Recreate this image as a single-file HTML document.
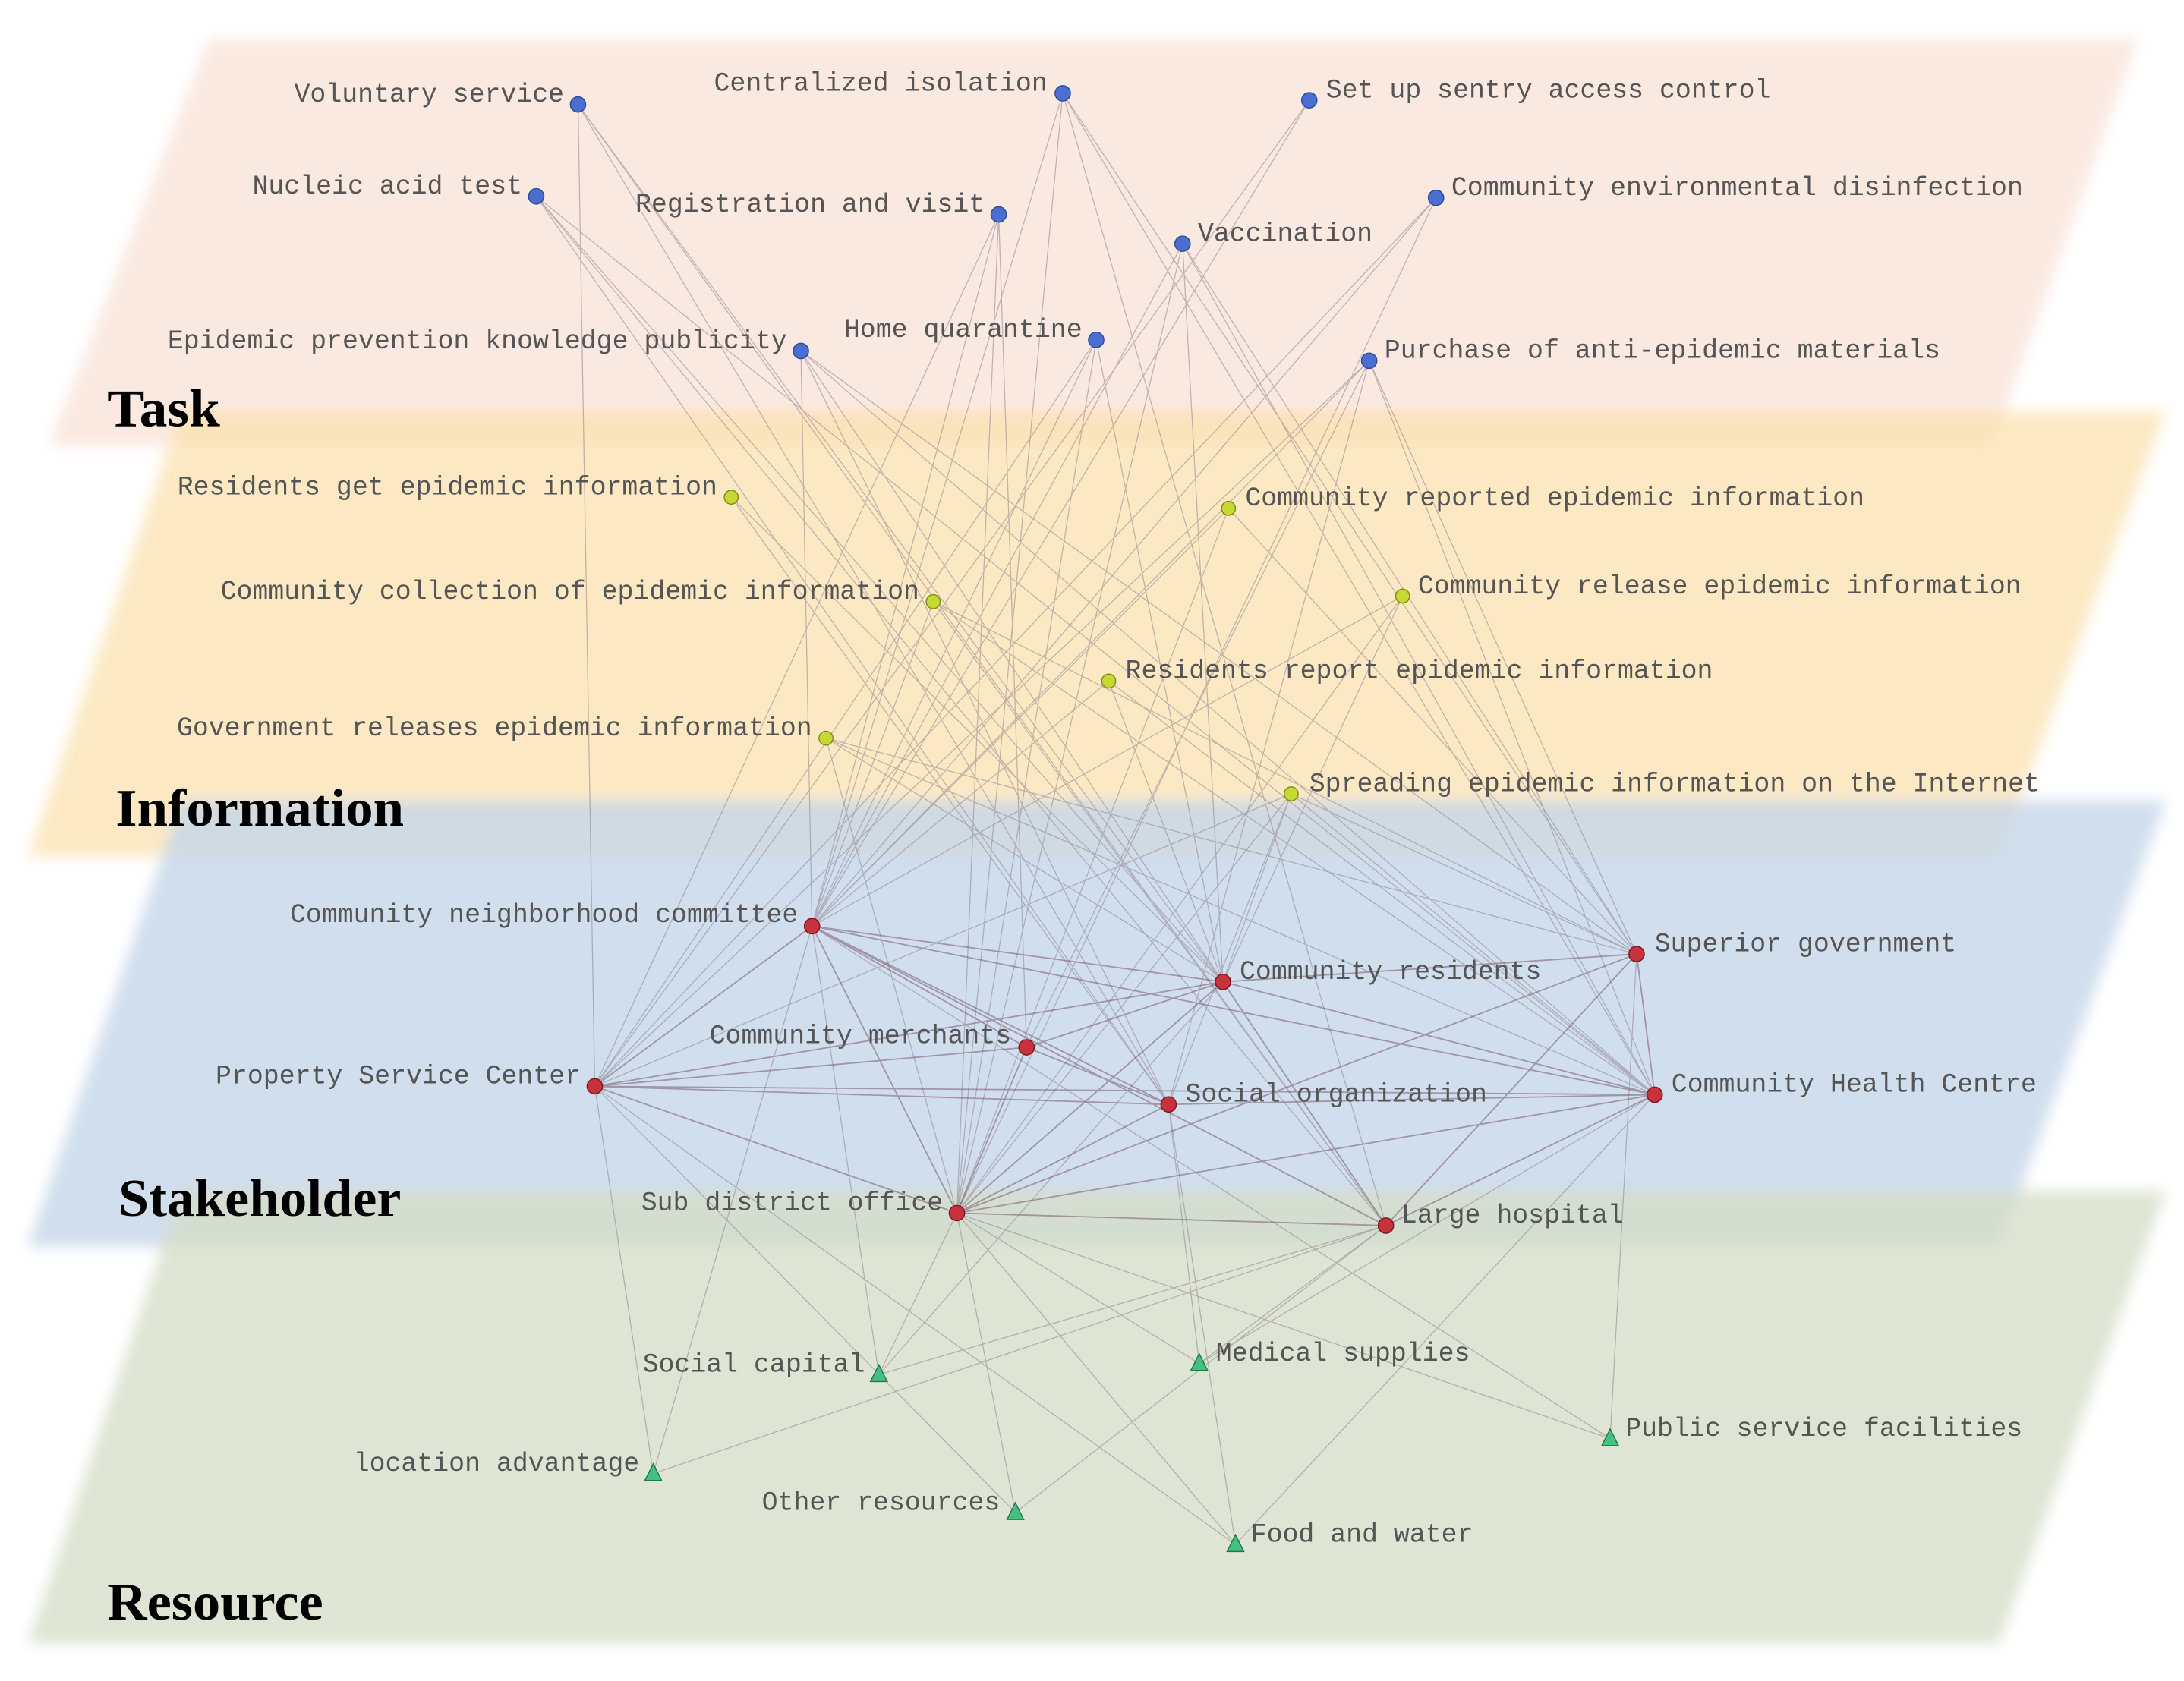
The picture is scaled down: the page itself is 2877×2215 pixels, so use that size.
<!DOCTYPE html>
<html><head><meta charset="utf-8"><style>
html,body{margin:0;padding:0;background:#fff;}
svg{display:block;}
.l{font-family:"Liberation Mono",monospace;font-size:19px;fill:#555;}
.h{font-family:"Liberation Serif",serif;font-weight:bold;font-size:38px;fill:#000;}
</style></head><body>
<svg width="2877" height="2215" viewBox="0 0 1568 1207" preserveAspectRatio="none" xmlns="http://www.w3.org/2000/svg">
<defs><filter id="b" x="-5%" y="-5%" width="110%" height="110%"><feGaussianBlur stdDeviation="5"/></filter></defs>
<rect width="1568" height="1207" fill="#fff"/>
<g filter="url(#b)">
<polygon points="150,28 1535,28 1430,320 35,320" fill="#f8e0d4" opacity="0.7"/>
<polygon points="130,295 1555,295 1435,615 20,615" fill="#fbe2b0" opacity="0.75"/>
<polygon points="130,575 1555,575 1435,895 20,895" fill="#c4d6ea" opacity="0.8"/>
<polygon points="130,855 1555,855 1435,1180 20,1180" fill="#d6dfc9" opacity="0.8"/>
</g>
<g stroke="#8a7a88" stroke-width="0.7" fill="none" opacity="0.5">
<path d="M415,75L878,705M415,75L839,793M415,75L995,880M415,75L427,780
M385,141L878,705M385,141L995,880M385,141L1188,786M385,141L839,793
M763,67L687,871M763,67L1188,786M763,67L1175,685M763,67L583,665M763,67L995,880
M717,154L583,665M717,154L427,780M717,154L687,871M717,154L737,752
M940,72L583,665M940,72L427,780
M849,175L1188,786M849,175L1175,685M849,175L687,871M849,175L583,665M849,175L878,705
M1031,142L427,780M1031,142L583,665M1031,142L687,871
M575,252L583,665M575,252L839,793M575,252L878,705M575,252L1175,685M575,252L1188,786
M787,244L583,665M787,244L687,871M787,244L878,705M787,244L427,780
M983,259L583,665M983,259L427,780M983,259L737,752M983,259L839,793M983,259L1175,685M983,259L1188,786
M525,357L878,705M525,357L839,793
M882,365L583,665M882,365L687,871M882,365L1175,685
M670,432L583,665M670,432L1175,685M670,432L1188,786M670,432L995,880
M1007,428L583,665M1007,428L878,705M1007,428L687,871
M796,489L878,705M796,489L583,665M796,489L1188,786
M593,530L1175,685M593,530L1188,786M593,530L687,871M593,530L878,705
M927,570L878,705M927,570L427,780M927,570L687,871M927,570L1175,685M927,570L1188,786M927,570L839,793
M631,987L583,665M631,987L687,871M631,987L995,880M631,987L878,705
M861,979L1188,786M861,979L995,880M861,979L839,793M861,979L687,871
M469,1058L427,780M469,1058L995,880M469,1058L583,665
M1156,1033L687,871M1156,1033L1175,685M1156,1033L583,665
M729,1086L687,871M729,1086L995,880M729,1086L427,780
M887,1109L687,871M887,1109L427,780M887,1109L1188,786M887,1109L839,793"/>
</g>
<g stroke="#7a5a70" stroke-width="1" fill="none" opacity="0.55">
<path d="M583,665L878,705M583,665L1188,786M583,665L839,793M583,665L737,752M583,665L427,780M583,665L687,871M583,665L995,880
M878,705L427,780M878,705L737,752M878,705L687,871M878,705L1175,685M878,705L995,880M878,705L1188,786
M737,752L427,780M737,752L687,871M737,752L839,793
M427,780L839,793M427,780L1188,786M427,780L687,871
M839,793L1188,786M687,871L1175,685M687,871L1188,786M687,871L995,880M687,871L839,793
M1175,685L1188,786M995,880L1188,786M995,880L1175,685"/>
</g>
<g fill="#4a6fd0" stroke="#2f4a99" stroke-width="0.8">
<circle cx="415" cy="75" r="5.5"/><circle cx="763" cy="67" r="5.5"/><circle cx="940" cy="72" r="5.5"/>
<circle cx="385" cy="141" r="5.5"/><circle cx="717" cy="154" r="5.5"/><circle cx="1031" cy="142" r="5.5"/>
<circle cx="849" cy="175" r="5.5"/><circle cx="575" cy="252" r="5.5"/><circle cx="787" cy="244" r="5.5"/>
<circle cx="983" cy="259" r="5.5"/>
</g>
<g fill="#c6d832" stroke="#7f8c1c" stroke-width="0.8">
<circle cx="525" cy="357" r="5"/><circle cx="882" cy="365" r="5"/><circle cx="670" cy="432" r="5"/>
<circle cx="1007" cy="428" r="5"/><circle cx="796" cy="489" r="5"/><circle cx="593" cy="530" r="5"/>
<circle cx="927" cy="570" r="5"/>
</g>
<g fill="#c8323c" stroke="#7a1a20" stroke-width="0.8">
<circle cx="583" cy="665" r="5.5"/><circle cx="878" cy="705" r="5.5"/><circle cx="1175" cy="685" r="5.5"/>
<circle cx="737" cy="752" r="5.5"/><circle cx="427" cy="780" r="5.5"/><circle cx="839" cy="793" r="5.5"/>
<circle cx="1188" cy="786" r="5.5"/><circle cx="687" cy="871" r="5.5"/><circle cx="995" cy="880" r="5.5"/>
</g>
<g fill="#45c080" stroke="#1f7a4a" stroke-width="0.8">
<polygon points="631,980 637,992 625,992"/><polygon points="861,972 867,984 855,984"/>
<polygon points="469,1051 475,1063 463,1063"/><polygon points="1156,1026 1162,1038 1150,1038"/>
<polygon points="729,1079 735,1091 723,1091"/><polygon points="887,1102 893,1114 881,1114"/>
</g>
<g class="l">
<text x="405" y="73" text-anchor="end">Voluntary service</text>
<text x="752" y="65" text-anchor="end">Centralized isolation</text>
<text x="952" y="70">Set up sentry access control</text>
<text x="375" y="139" text-anchor="end">Nucleic acid test</text>
<text x="707" y="152" text-anchor="end">Registration and visit</text>
<text x="1042" y="140">Community environmental disinfection</text>
<text x="860" y="173">Vaccination</text>
<text x="565" y="250" text-anchor="end">Epidemic prevention knowledge publicity</text>
<text x="777" y="242" text-anchor="end">Home quarantine</text>
<text x="994" y="257">Purchase of anti-epidemic materials</text>
<text x="515" y="355" text-anchor="end">Residents get epidemic information</text>
<text x="894" y="363">Community reported epidemic information</text>
<text x="660" y="430" text-anchor="end">Community collection of epidemic information</text>
<text x="1018" y="426">Community release epidemic information</text>
<text x="808" y="487">Residents report epidemic information</text>
<text x="583" y="528" text-anchor="end">Government releases epidemic information</text>
<text x="940" y="568">Spreading epidemic information on the Internet</text>
<text x="573" y="662" text-anchor="end">Community neighborhood committee</text>
<text x="890" y="703">Community residents</text>
<text x="1188" y="683">Superior government</text>
<text x="726" y="749" text-anchor="end">Community merchants</text>
<text x="417" y="778" text-anchor="end">Property Service Center</text>
<text x="851" y="791">Social organization</text>
<text x="1200" y="784">Community Health Centre</text>
<text x="677" y="869" text-anchor="end">Sub district office</text>
<text x="1006" y="878">Large hospital</text>
<text x="621" y="985" text-anchor="end">Social capital</text>
<text x="873" y="977">Medical supplies</text>
<text x="459" y="1056" text-anchor="end">location advantage</text>
<text x="1167" y="1031">Public service facilities</text>
<text x="718" y="1084" text-anchor="end">Other resources</text>
<text x="898" y="1107">Food and water</text>
</g>
<g class="h">
<text x="77" y="306" textLength="81" lengthAdjust="spacingAndGlyphs">Task</text>
<text x="83" y="593" textLength="207" lengthAdjust="spacingAndGlyphs">Information</text>
<text x="85" y="873" textLength="203" lengthAdjust="spacingAndGlyphs">Stakeholder</text>
<text x="77" y="1163" textLength="155" lengthAdjust="spacingAndGlyphs">Resource</text>
</g>
</svg>
</body></html>
